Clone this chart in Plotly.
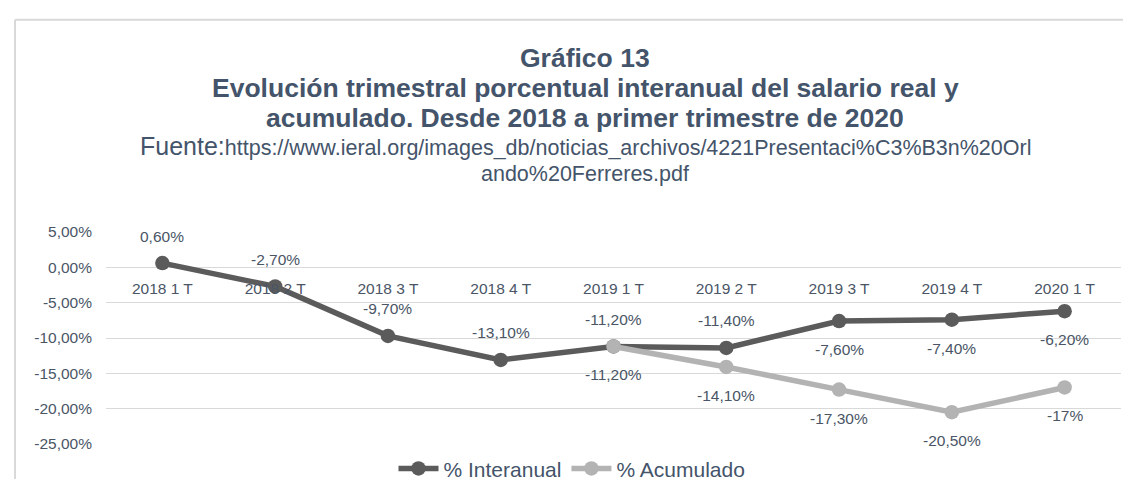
import plotly.graph_objects as go

# ---------------- data ----------------
categories = ["2018 1 T", "2018 2 T", "2018 3 T", "2018 4 T", "2019 1 T",
              "2019 2 T", "2019 3 T", "2019 4 T", "2020 1 T"]
interanual = [0.6, -2.7, -9.7, -13.1, -11.2, -11.4, -7.6, -7.4, -6.2]
interanual_labels = ["0,60%", "-2,70%", "-9,70%", "-13,10%", "-11,20%",
                     "-11,40%", "-7,60%", "-7,40%", "-6,20%"]
acumulado_categories = ["2019 1 T", "2019 2 T", "2019 3 T", "2019 4 T", "2020 1 T"]
acumulado = [-11.2, -14.1, -17.3, -20.5, -17.0]
acumulado_labels = ["-11,20%", "-14,10%", "-17,30%", "-20,50%", "-17%"]
y_ticks = [5, 0, -5, -10, -15, -20, -25]
y_tick_text = [(f"{v:.2f}".replace(".", ",") + "%") for v in y_ticks]

# ---------------- layout geometry (pixels) ----------------
W, H = 1131, 479
L, R, T, B = 98, 1113, 224, 435.8
PW, PH = R - L, B - T


def px(x):
    return (x - L) / PW


def py(y):
    return (B - y) / PH


TXT = "#44546A"
LBL = "#4a5566"
DARK = "#5b5b5b"
LIGHT = "#b3b3b3"
FONT = "Liberation Sans, Arial, sans-serif"

fig = go.Figure()
fig.add_trace(go.Scatter(
    x=categories, y=interanual, name="% Interanual", mode="lines+markers",
    line=dict(color=DARK, width=5.5), marker=dict(color=DARK, size=14.5),
    cliponaxis=False))
fig.add_trace(go.Scatter(
    x=acumulado_categories, y=acumulado, name="% Acumulado", mode="lines+markers",
    line=dict(color=LIGHT, width=5.5), marker=dict(color=LIGHT, size=14.5),
    cliponaxis=False))

annotations = []
# data labels
inter_pos = [1, 1, 1, 1, 1, 1, -1, -1, -1]
for c, v, t, s in zip(categories, interanual, interanual_labels, inter_pos):
    annotations.append(dict(x=c, y=v, xref="x", yref="y", text=t, showarrow=False,
                            yshift=27 * s if s > 0 else -28.5,
                            font=dict(size=15.5, color=LBL, family=FONT)))
for c, v, t in zip(acumulado_categories, acumulado, acumulado_labels):
    annotations.append(dict(x=c, y=v, xref="x", yref="y", text=t, showarrow=False,
                            yshift=-28.5, font=dict(size=15.5, color=LBL, family=FONT)))

# titles
title_lines = [
    ("<b>Gráfico 13</b>", 50.5, 26.5),
    ("<b>Evolución trimestral porcentual interanual del salario real y</b>", 80, 26.5),
    ("<b>acumulado. Desde 2018 a primer trimestre de 2020</b>", 110, 26.5),
    ("<span style='font-size:25px'>Fuente:</span>https://www.ieral.org/images_db/noticias_archivos/4221Presentaci%C3%B3n%20Orl", 138.5, 21.5),
    ("ando%20Ferreres.pdf", 166.5, 21.5),
]
for text, yc, size in title_lines:
    annotations.append(dict(x=px(577), y=py(yc), xref="paper", yref="paper", text=text,
                            showarrow=False, xanchor="center", yanchor="middle",
                            font=dict(size=size, color=TXT, family=FONT)))

shapes = [
    dict(type="line", xref="paper", yref="paper", x0=px(7), x1=px(W + 5), y0=py(12), y1=py(12),
         line=dict(color="#d9d9d9", width=2)),
    dict(type="line", xref="paper", yref="paper", x0=px(7), x1=px(7), y0=py(12), y1=py(H + 5),
         line=dict(color="#d9d9d9", width=2)),
]

fig.update_layout(
    width=W, height=H, autosize=False,
    margin=dict(l=L, r=W - R, t=T, b=H - B, pad=0, autoexpand=False),
    paper_bgcolor="white", plot_bgcolor="white",
    font=dict(family=FONT, color=LBL, size=15.5),
    showlegend=True,
    legend=dict(orientation="h", x=px(564), y=py(481), xanchor="center", yanchor="bottom",
                font=dict(size=21, color=TXT, family=FONT), itemwidth=40,
                bgcolor="rgba(0,0,0,0)"),
    annotations=annotations, shapes=shapes,
)
fig.update_xaxes(type="category", categoryorder="array", categoryarray=categories,
                 range=[-0.5, 8.5], showgrid=False, showline=False, zeroline=False,
                 ticks="", anchor="free", position=(0 - y_ticks[-1]) / (y_ticks[0] - y_ticks[-1]),
                 ticklabelstandoff=10, tickfont=dict(size=15.5, color=LBL, family=FONT),
                 automargin=False)
fig.update_yaxes(range=[y_ticks[-1], y_ticks[0]], tickvals=y_ticks, ticktext=y_tick_text,
                 showgrid=True, gridcolor="#d9d9d9", gridwidth=1.4, zeroline=False,
                 showline=False, ticks="", ticklabelstandoff=13, automargin=False,
                 tickfont=dict(size=15.5, color=LBL, family=FONT))

fig.write_html("out.html")
